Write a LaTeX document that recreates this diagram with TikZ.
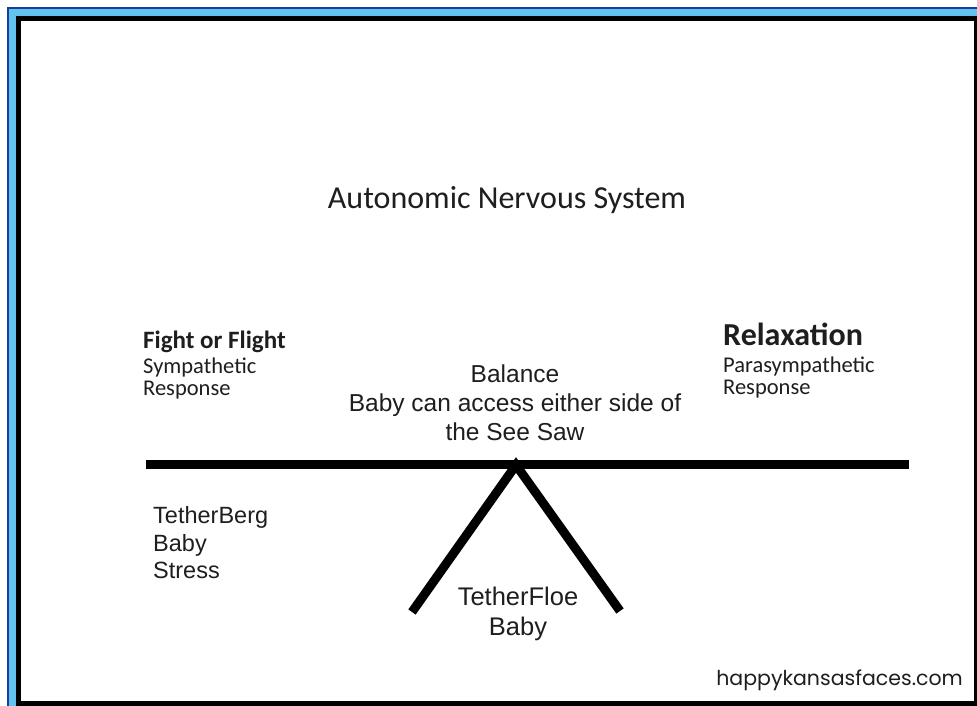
\documentclass[tikz,border=0pt]{standalone}
\usepackage{fontspec}
\setmainfont{Carlito}
\newfontfamily\arialfont{Liberation Sans}
\newfontfamily\webfont{Poppins}
\usetikzlibrary{positioning}
\definecolor{inkgray}{HTML}{1E1E1E}
\definecolor{framesky}{HTML}{62C3EE}
\definecolor{framenavy}{HTML}{1B3C9C}

\begin{document}
\begin{tikzpicture}[x=1pt,y=-1pt,
  txt/.style={inner sep=0pt,text=inkgray},
  heading/.style={txt,anchor=base,font=\fontsize{32}{36}\selectfont},
  sidehead/.style={txt,anchor=base west,font=\bfseries\fontsize{25}{28}\selectfont},
  sidesub/.style={txt,anchor=base west,font=\fontsize{22.5}{22}\selectfont},
  plain/.style={txt,anchor=base,font=\arialfont\fontsize{24.5}{29}\selectfont},
  beam/.style={line width=9pt,black}]
  \useasboundingbox (0,0) rectangle (977,706);

  % frame round the page
  \fill[framesky] (8,8) rectangle (977,706);
  \draw[framenavy,line width=1.5pt] (8,706) -- (8,8) -- (977,8);
  \fill[black] (16,16) rectangle (977,706);
  \fill[white] (21,21) rectangle (974,701);

  % title
  \node[heading] (title) at (507,208) {Autonomic Nervous System};

  % the see saw
  \coordinate (beamL) at (146,464);
  \coordinate (beamR) at (909,464);
  \coordinate (apex) at (516,465);
  \coordinate (legL) at (412,612);
  \coordinate (legR) at (620,611);
  \draw[beam] (beamL) -- (beamR);
  \draw[beam] (legL) -- (apex) -- (legR);

  % left side
  \node[sidehead] (fight) at (143,348) {Fight or Flight};
  \node[sidesub] (symp) at (143,373) {Sympathetic};
  \node[sidesub] (sympresp) at (143,395) {Response};

  % right side
  \node[sidehead,font=\bfseries\fontsize{32}{36}\selectfont] (relax) at (723,345) {Relaxation};
  \node[sidesub] (para) at (723,372) {Parasympathetic};
  \node[sidesub] (pararesp) at (723,394) {Response};

  % middle
  \node[plain] (balance) at (515,382) {Balance};
  \node[plain] (access) at (515,411) {Baby can access either side of};
  \node[plain] (seesaw) at (515,440) {the See Saw};

  \node[plain,anchor=base west,font=\arialfont\fontsize{23.5}{27}\selectfont] (berg) at (153,523) {TetherBerg};
  \node[plain,anchor=base west,font=\arialfont\fontsize{23.5}{27}\selectfont] (bergbaby) at (153,551) {Baby};
  \node[plain,anchor=base west,font=\arialfont\fontsize{23.5}{27}\selectfont] (bergstress) at (153,578) {Stress};

  \node[plain,font=\arialfont\fontsize{25.5}{30}\selectfont] (floe) at (518,605) {TetherFloe};
  \node[plain,font=\arialfont\fontsize{25.5}{30}\selectfont] (floebaby) at (518,635) {Baby};

  % web address
  \node[txt,anchor=base east,font=\webfont\fontsize{20.5}{24}\selectfont] (site) at (963,685) {happykansasfaces.com};
\end{tikzpicture}
\end{document}
